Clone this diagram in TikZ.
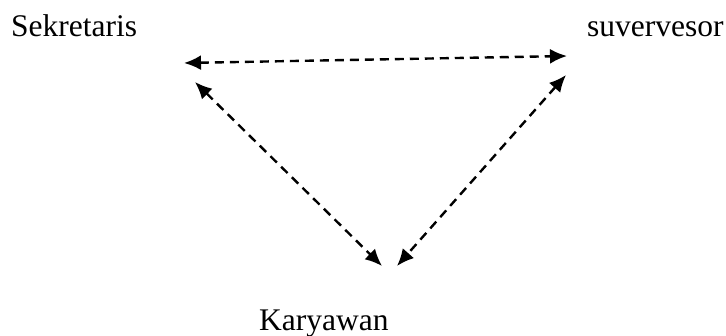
\documentclass[tikz,border=0pt]{standalone}
\usepackage{fontspec}
\setmainfont{Liberation Serif}
\usetikzlibrary{arrows.meta}
\begin{document}
\begin{tikzpicture}[x=1pt,y=1pt,
  lbl/.style={inner sep=0pt,anchor=base west,font=\fontsize{31.5}{36}\selectfont},
  link/.style={line width=2.4pt,dash pattern=on 9pt off 6pt,{Latex[length=17pt,width=15pt]}-{Latex[length=17pt,width=15pt]}}]
\useasboundingbox (0,0) rectangle (726,336);
\node[lbl] (sek) at (11,299) {Sekretaris};
\node[lbl] (sup) at (587,299) {suvervesor};
\node[lbl] (kar) at (259,5) {Karyawan};
\coordinate (t1) at (184,273);
\coordinate (t2) at (567,280);
\coordinate (l1) at (195,254);
\coordinate (l2) at (382,70);
\coordinate (r1) at (566,261);
\coordinate (r2) at (397,70);
\draw[link] (t1) -- (t2);
\draw[link] (l1) -- (l2);
\draw[link] (r1) -- (r2);
\end{tikzpicture}
\end{document}
